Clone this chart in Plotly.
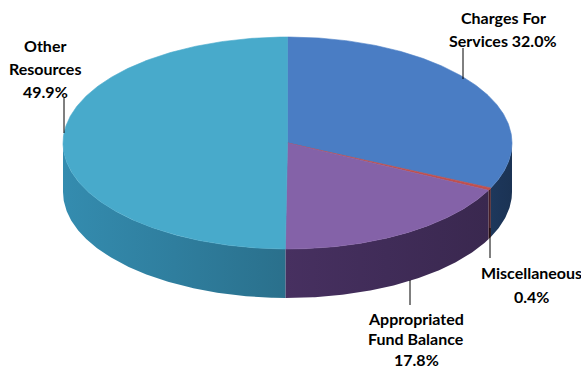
import numpy as np
import plotly.graph_objects as go

# Budget shares (percent)
categories = ["Charges For Services", "Miscellaneous", "Appropriated Fund Balance", "Other Resources"]
values = [32.0, 0.4, 17.8, 49.9]
label_lines = [["Charges For", "Services 32.0%"], ["Miscellaneous", "0.4%"],
               ["Appropriated", "Fund Balance", "17.8%"], ["Other", "Resources", "49.9%"]]

# Styling
top_colors = [(74, 125, 196), (192, 80, 77), (132, 98, 168), (72, 170, 203)]
side_colors = [(45, 85, 140), (110, 45, 60), (88, 60, 120), (52, 140, 175)]

W, H = 581, 369
cx, cy = 287.5, 143.0      # centre of the top face
rx, ry = 224.5, 106.0      # ellipse radii of the top face
depth = 49.0               # thickness of the disc


def pt(t, dz=0.0):
    """Point on the rim at angle t (degrees, clockwise from 12 o'clock)."""
    r = np.radians(t)
    return cx + rx * np.sin(r), cy - ry * np.cos(r) + dz


def rgb(c, f=1.0):
    return "rgb(%d,%d,%d)" % tuple(max(0, min(255, round(v * f))) for v in c)


def shade_at(t):
    # side walls get darker towards the right
    return 0.6 + 0.4 * (t - 90.0) / 180.0


total = sum(values)
bounds = np.concatenate([[0.0], np.cumsum(values) / total * 360.0])

fig = go.Figure()

# Side walls: only the front half (90..270 deg) is visible
for i in range(len(values)):
    a, b = max(bounds[i], 90.0), min(bounds[i + 1], 270.0)
    if b <= a:
        continue
    ts = np.linspace(a, b, max(4, int((b - a) * 2)))
    xs_top, ys_top = pt(ts)
    xs_bot, ys_bot = pt(ts[::-1], depth)
    xs = np.concatenate([xs_top, xs_bot, xs_top[:1]])
    ys = np.concatenate([ys_top, ys_bot, ys_top[:1]])
    # horizontal gradient: left end of the polygon is at angle b, right end at angle a
    c_left = rgb(side_colors[i], shade_at(b))
    c_right = rgb(side_colors[i], shade_at(a))
    mid = rgb(side_colors[i], shade_at(0.5 * (a + b)))
    fig.add_trace(go.Scatter(
        x=xs, y=ys, mode="lines", fill="toself",
        fillgradient=dict(type="horizontal",
                          colorscale=[[0, c_left], [0.5, mid], [1, c_right]]),
        line=dict(color=mid, width=0),
        hoverinfo="skip", showlegend=False))

# Top faces
for i in range(len(values)):
    ts = np.linspace(bounds[i], bounds[i + 1], max(3, int((bounds[i + 1] - bounds[i]) * 2)))
    xs, ys = pt(ts)
    xs = np.concatenate([[cx], xs, [cx]])
    ys = np.concatenate([[cy], ys, [cy]])
    col = rgb(top_colors[i])
    fig.add_trace(go.Scatter(x=xs, y=ys, mode="lines", fill="toself",
                             fillcolor=col, line=dict(color=col, width=0.6),
                             hoverinfo="skip", showlegend=False,
                             name=categories[i]))

# Labels (x centre, first line y, line step) and their leader lines
label_pos = [(503, 17, 23), (531, 272, 24), (416, 318, 20.5), (45, 45, 23)]
leaders = [((463, 48), (463, 79)), ((490, 228), (490, 258)),
           ((410, 280), (410, 305)), ((64, 98), (64, 133))]
for (p0, p1) in leaders:
    fig.add_trace(go.Scatter(x=[p0[0], p1[0]], y=[p0[1], p1[1]], mode="lines",
                             line=dict(color="black", width=1),
                             hoverinfo="skip", showlegend=False))
for lines, (lx, ly, step) in zip(label_lines, label_pos):
    for k, txt in enumerate(lines):
        fig.add_annotation(x=lx, y=ly + k * step, text="<b>%s</b>" % txt,
                           showarrow=False, xanchor="center", yanchor="middle",
                           font=dict(family="Lato", size=16, color="black"))

fig.update_layout(
    width=W, height=H, margin=dict(l=0, r=0, t=0, b=0),
    paper_bgcolor="white", plot_bgcolor="white",
    xaxis=dict(range=[0, W], visible=False, fixedrange=True),
    yaxis=dict(range=[H, 0], visible=False, fixedrange=True),
    showlegend=False,
)

fig.write_html("out.html")
